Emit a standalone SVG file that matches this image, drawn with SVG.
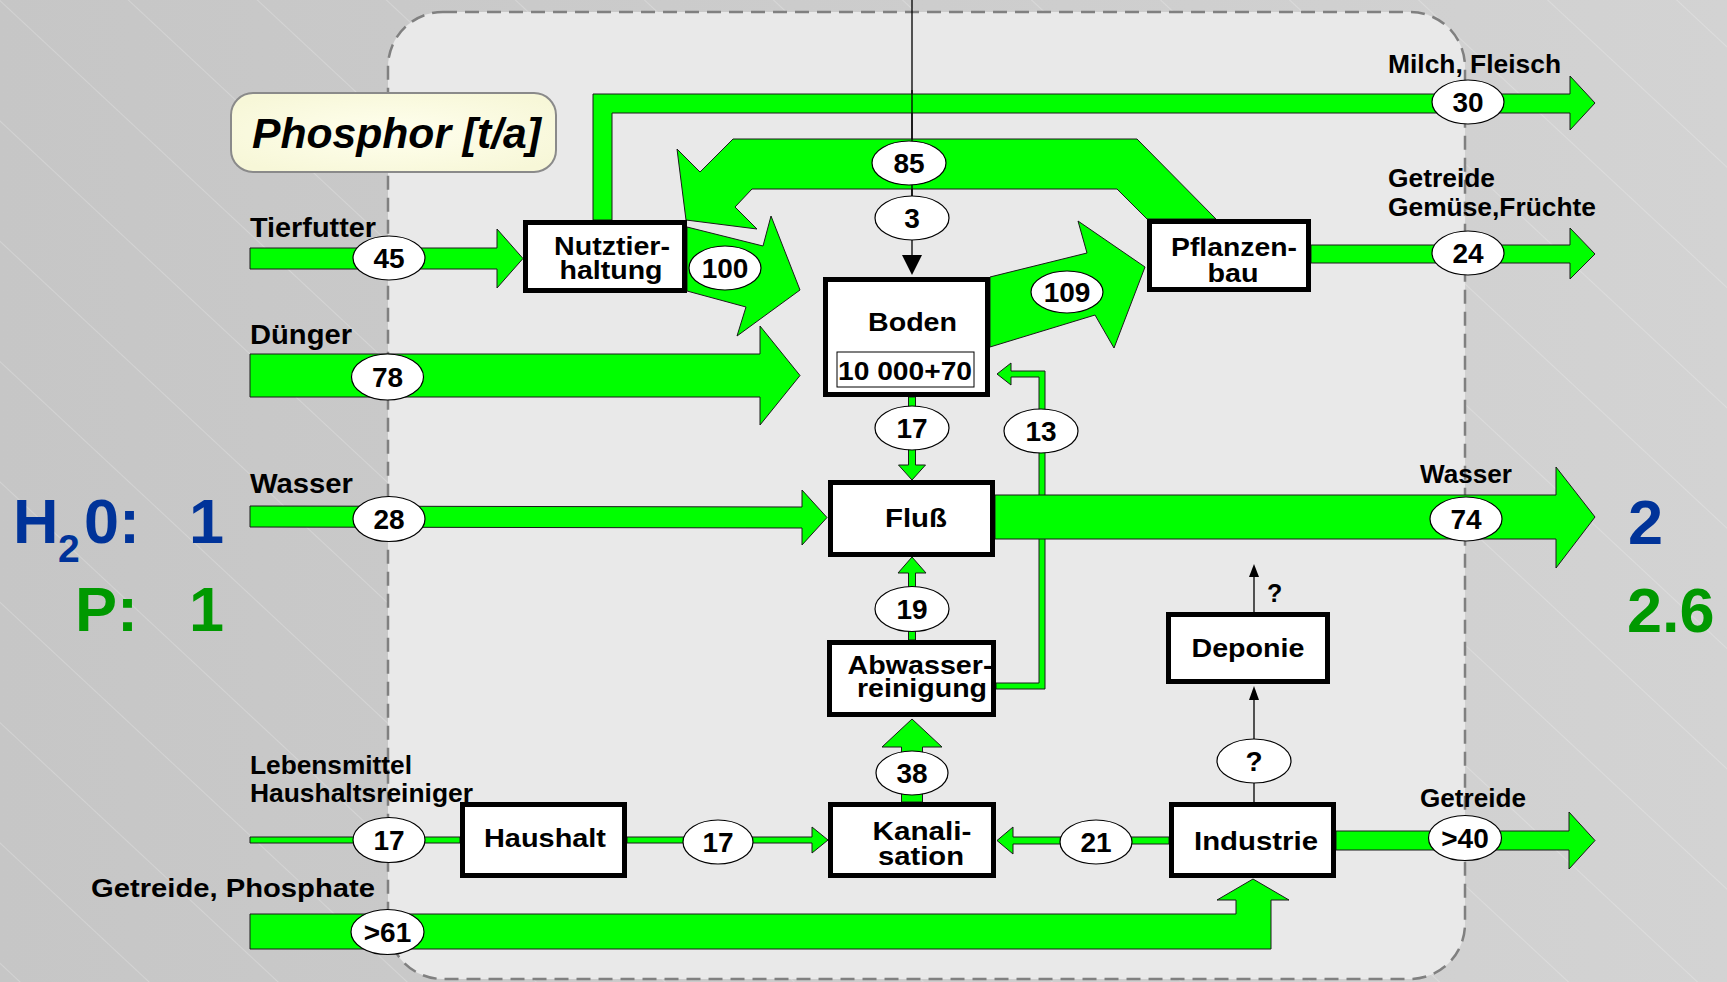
<svg xmlns="http://www.w3.org/2000/svg" width="1727" height="982" viewBox="0 0 1727 982">
<defs>
  <linearGradient id="bg" x1="0" y1="0" x2="1" y2="0">
    <stop offset="0" stop-color="#c6c6c6"/>
    <stop offset="1" stop-color="#d3d3d3"/>
  </linearGradient>
  <pattern id="diag" width="20" height="88" patternUnits="userSpaceOnUse" patternTransform="rotate(43)">
    <line x1="0" y1="0.5" x2="20" y2="0.5" stroke="#ffffff" stroke-opacity="0.22" stroke-width="1"/>
  </pattern>
  <radialGradient id="titleFill" cx="0.5" cy="0.5" r="0.6">
    <stop offset="0" stop-color="#ffffee"/>
    <stop offset="1" stop-color="#f7f7d8"/>
  </radialGradient>
  <style>
    .flow{fill:#00ff00;stroke:#1a1a1a;stroke-width:1;stroke-linejoin:miter}
    .lbl{fill:#ffffff;stroke:#000000;stroke-width:1.2}
    .num{font-family:"Liberation Sans",Arial,sans-serif;font-weight:bold;font-size:28px;fill:#000;text-anchor:middle}
    .box{fill:#ffffff;stroke:#000000;stroke-width:5}
    .nt{font-family:"Liberation Sans",Arial,sans-serif;font-weight:bold;font-size:26px;fill:#000;text-anchor:middle}
    .side{font-family:"Liberation Sans",Arial,sans-serif;font-weight:bold;font-size:25px;fill:#000}
    .side27{font-family:"Liberation Sans",Arial,sans-serif;font-weight:bold;font-size:27px;fill:#000}
    .thin{stroke:#000;stroke-width:1.3;fill:none}
    .big{font-family:"Liberation Sans",Arial,sans-serif;font-weight:bold;font-size:63px}
    .sub{font-family:"Liberation Sans",Arial,sans-serif;font-weight:bold;font-size:39px}
  </style>
</defs>

<!-- background -->
<rect x="0" y="0" width="1727" height="982" fill="url(#bg)"/>
<rect x="0" y="0" width="1727" height="982" fill="url(#diag)"/>
<rect x="388" y="12" width="1077" height="967" rx="55" ry="55" fill="#e9e9e9" stroke="#808080" stroke-width="2.5" stroke-dasharray="14 8"/>

<!-- title -->
<g id="title">
  <rect x="231" y="93" width="325" height="79" rx="22" ry="22" fill="url(#titleFill)" stroke="#8a8a8a" stroke-width="2"/>
  <text x="252" y="148" font-family="'Liberation Sans',Arial,sans-serif" font-weight="bold" font-style="italic" font-size="42" textLength="289" lengthAdjust="spacingAndGlyphs">Phosphor [t/a]</text>
</g>

<!-- connectors -->
<g id="connectors">
  <line class="thin" x1="912" y1="0" x2="912" y2="256"/>
  <polygon points="902,255 922,255 912,275" fill="#000"/>

  <polygon class="flow" points="593,220 593,94 1570,94 1570,76 1595,103 1570,130 1570,113 612,113 612,220"/>
  <polygon class="flow" points="1216,219 1137,139 733,139 700,172 677,149 686,220 757,229 735,207 752,189 1117,189 1147,219"/>
  <line class="thin" x1="912" y1="90" x2="912" y2="200"/>
  <polygon class="flow" points="687,227 763,246 771,216 800,290 737,336 746,307 687,291"/>
  <polygon class="flow" points="250,248 497,248 497,229 523,258.5 497,288 497,269 250,269"/>
  <polygon class="flow" points="250,354 760,354 760,326 800,375.5 760,425 760,397 250,397"/>
  <polygon class="flow" points="990,277 1087,253 1078,221 1145,267 1114,348 1095,315 990,347"/>
  <polygon class="flow" points="1311,245 1570,245 1570,228 1595,254 1570,279 1570,263 1311,263"/>
  <polygon class="flow" points="908.5,397 908.5,465 898.5,465 912,480 925.5,465 915.5,465 915.5,397"/>
  <polygon class="flow" points="996,683 1039,683 1039,377 1011,377 1011,385 997,374 1011,363 1011,371 1045,371 1045,689 996,689"/>
  <polygon class="flow" points="250,506 802,507 802,490 827,517.5 802,545 802,528 250,527"/>
  <polygon class="flow" points="995,495 1556,495 1556,467 1595,517 1556,568 1556,539 995,539"/>
  <polygon class="flow" points="908.5,640 908.5,573 898,573 912,557 926,573 915.5,573 915.5,640"/>
  <polygon class="flow" points="901.5,802 901.5,747 882,747 912,719 942,747 922.5,747 922.5,802"/>
  <polygon class="flow" points="250,837 460,837 460,843 250,843"/>
  <polygon class="flow" points="627,837 812,837 812,827 828,840 812,853 812,843 627,843"/>
  <polygon class="flow" points="1169,837 1013,837 1013,827 997,840.5 1013,854 1013,844 1169,844"/>
  <polygon class="flow" points="1336,831 1569,831 1569,812 1595,840.5 1569,869 1569,850 1336,850"/>
  <polygon class="flow" points="250,914 1236,914 1236,900 1217,900 1253,879 1289,900 1271,900 1271,949 250,949"/>

  <line class="thin" x1="1254" y1="802" x2="1254" y2="699"/>
  <polygon points="1249,700 1259,700 1254,686" fill="#000"/>
  <line class="thin" x1="1254" y1="612" x2="1254" y2="576"/>
  <polygon points="1249,577 1259,577 1254,564" fill="#000"/>
  <text class="side" x="1267" y="602">?</text>

  <ellipse class="lbl" cx="389" cy="258" rx="36" ry="22"/><text class="num" x="389" y="268">45</text>
  <ellipse class="lbl" cx="387.5" cy="377" rx="36" ry="23"/><text class="num" x="387.5" y="387">78</text>
  <ellipse class="lbl" cx="725" cy="268" rx="36" ry="22"/><text class="num" x="725" y="278">100</text>
  <ellipse class="lbl" cx="909" cy="163" rx="37" ry="22"/><text class="num" x="909" y="173">85</text>
  <ellipse class="lbl" cx="912" cy="218" rx="37" ry="22"/><text class="num" x="912" y="228">3</text>
  <ellipse class="lbl" cx="1468" cy="102" rx="36" ry="22"/><text class="num" x="1468" y="112">30</text>
  <ellipse class="lbl" cx="1468" cy="253" rx="36" ry="22"/><text class="num" x="1468" y="263">24</text>
  <ellipse class="lbl" cx="1067" cy="292" rx="36" ry="21"/><text class="num" x="1067" y="302">109</text>
  <ellipse class="lbl" cx="912" cy="428" rx="37" ry="22"/><text class="num" x="912" y="438">17</text>
  <ellipse class="lbl" cx="1041" cy="431" rx="37" ry="22"/><text class="num" x="1041" y="441">13</text>
  <ellipse class="lbl" cx="389" cy="519" rx="36" ry="22.5"/><text class="num" x="389" y="529">28</text>
  <ellipse class="lbl" cx="1466" cy="519" rx="36" ry="22"/><text class="num" x="1466" y="529">74</text>
  <ellipse class="lbl" cx="912" cy="609" rx="37" ry="22.5"/><text class="num" x="912" y="619">19</text>
  <ellipse class="lbl" cx="912" cy="773" rx="36" ry="22"/><text class="num" x="912" y="783">38</text>
  <ellipse class="lbl" cx="1254" cy="761" rx="37" ry="22"/><text class="num" x="1254" y="771">?</text>
  <ellipse class="lbl" cx="389" cy="840" rx="36" ry="22.5"/><text class="num" x="389" y="850">17</text>
  <ellipse class="lbl" cx="718" cy="842" rx="35" ry="22"/><text class="num" x="718" y="852">17</text>
  <ellipse class="lbl" cx="1096" cy="842" rx="36" ry="22"/><text class="num" x="1096" y="852">21</text>
  <ellipse class="lbl" cx="1465" cy="838" rx="36.5" ry="22.5"/><text class="num" x="1465" y="848">&gt;40</text>
  <ellipse class="lbl" cx="387.5" cy="932" rx="36.5" ry="22.5"/><text class="num" x="387.5" y="942">&gt;61</text>
</g>

<!-- nodes -->
<g id="nutztierhaltung">
  <rect class="box" x="525.5" y="222.5" width="159" height="68"/>
  <text class="nt" x="612" y="255" textLength="116" lengthAdjust="spacingAndGlyphs">Nutztier-</text>
  <text class="nt" x="611" y="279" textLength="103" lengthAdjust="spacingAndGlyphs">haltung</text>
</g>
<g id="boden">
  <rect class="box" x="825.5" y="279.5" width="162" height="115"/>
  <text class="nt" x="912.5" y="331" textLength="89" lengthAdjust="spacingAndGlyphs">Boden</text>
  <rect x="837" y="352" width="137" height="35" fill="none" stroke="#000" stroke-width="1"/>
  <text class="nt" x="905" y="380" textLength="134" lengthAdjust="spacingAndGlyphs">10 000+70</text>
</g>
<g id="pflanzenbau">
  <rect class="box" x="1149.5" y="221.5" width="159" height="68"/>
  <text class="nt" x="1234" y="256" textLength="126" lengthAdjust="spacingAndGlyphs">Pflanzen-</text>
  <text class="nt" x="1233" y="282" textLength="51" lengthAdjust="spacingAndGlyphs">bau</text>
</g>
<g id="fluss">
  <rect class="box" x="830.5" y="482.5" width="162" height="72"/>
  <text class="nt" x="916" y="527" textLength="62" lengthAdjust="spacingAndGlyphs">Fluß</text>
</g>
<g id="abwasserreinigung">
  <rect class="box" x="829.5" y="642.5" width="164" height="72"/>
  <text class="nt" x="920" y="674" textLength="145" lengthAdjust="spacingAndGlyphs">Abwasser-</text>
  <text class="nt" x="922" y="697" textLength="130" lengthAdjust="spacingAndGlyphs">reinigung</text>
</g>
<g id="deponie">
  <rect class="box" x="1168.5" y="614.5" width="159" height="67"/>
  <text class="nt" x="1248" y="657" textLength="113" lengthAdjust="spacingAndGlyphs">Deponie</text>
</g>
<g id="haushalt">
  <rect class="box" x="462.5" y="804.5" width="162" height="71"/>
  <text class="nt" x="545" y="847" textLength="122" lengthAdjust="spacingAndGlyphs">Haushalt</text>
</g>
<g id="kanalisation">
  <rect class="box" x="830.5" y="804.5" width="163" height="71"/>
  <text class="nt" x="922" y="840" textLength="99" lengthAdjust="spacingAndGlyphs">Kanali-</text>
  <text class="nt" x="921" y="865" textLength="86" lengthAdjust="spacingAndGlyphs">sation</text>
</g>
<g id="industrie">
  <rect class="box" x="1171.5" y="804.5" width="162" height="71"/>
  <text class="nt" x="1256" y="850" textLength="124" lengthAdjust="spacingAndGlyphs">Industrie</text>
</g>

<!-- side labels -->
<g id="labels">
  <text class="side27" x="250" y="237" textLength="126" lengthAdjust="spacingAndGlyphs">Tierfutter</text>
  <text class="side27" x="250" y="344" textLength="102" lengthAdjust="spacingAndGlyphs">Dünger</text>
  <text class="side27" x="250" y="493" textLength="103" lengthAdjust="spacingAndGlyphs">Wasser</text>
  <text class="side" x="250" y="774" textLength="162" lengthAdjust="spacingAndGlyphs">Lebensmittel</text>
  <text class="side" x="250" y="802" textLength="223" lengthAdjust="spacingAndGlyphs">Haushaltsreiniger</text>
  <text class="side" x="91" y="897" textLength="284" lengthAdjust="spacingAndGlyphs">Getreide, Phosphate</text>
  <text class="side" x="1388" y="73" textLength="173" lengthAdjust="spacingAndGlyphs">Milch, Fleisch</text>
  <text class="side" x="1388" y="187" textLength="107" lengthAdjust="spacingAndGlyphs">Getreide</text>
  <text class="side" x="1388" y="216" textLength="208" lengthAdjust="spacingAndGlyphs">Gemüse,Früchte</text>
  <text class="side" x="1420" y="483" textLength="92" lengthAdjust="spacingAndGlyphs">Wasser</text>
  <text class="side" x="1420" y="807" textLength="106" lengthAdjust="spacingAndGlyphs">Getreide</text>
</g>

<!-- ratio labels -->
<g id="ratios">
  <text class="big" x="13" y="543" fill="#003399">H</text>
  <text class="sub" x="58" y="562" fill="#003399">2</text>
  <text class="big" x="84" y="543" fill="#003399">0:</text>
  <text class="big" x="189" y="543" fill="#003399">1</text>
  <text class="big" x="75" y="631" fill="#009900">P:</text>
  <text class="big" x="189" y="631" fill="#009900">1</text>
  <text class="big" x="1628" y="544" fill="#003399">2</text>
  <text class="big" x="1627" y="632" fill="#009900">2.6</text>
</g>
</svg>
